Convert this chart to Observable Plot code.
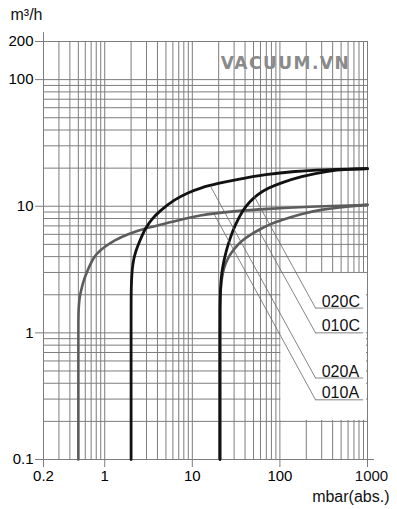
<!DOCTYPE html>
<html><head><meta charset="utf-8">
<script src="https://cdn.jsdelivr.net/npm/d3@7"></script>
<script src="https://cdn.jsdelivr.net/npm/@observablehq/plot@0.6"></script>
<style>
html,body{margin:0;padding:0;background:#fff;}
#chart svg{display:block;}
</style></head><body><div id="chart"></div>
<script>
// Axis ticks
const xTicks = [0.2, 1, 10, 100];
const xTickLast = [1000];
const yTicks = [0.1, 1, 10, 100, 200];
// Grid lines
const xGrid = [0.3,0.4,0.5,0.6,0.7,0.8,0.9,1,2,3,4,5,6,7,8,9,10,20,30,40,50,60,70,80,90,100,200,300,400,500,600,700,800,900,1000];
const yGrid = [0.2,0.3,0.4,0.5,0.6,0.7,0.8,0.9,1,2,3,4,5,6,7,8,9,10,20,30,40,50,60,70,80,90,100,200];

// Curves (pressure mbar, pumping speed m3/h)
const x010A = [0.5,0.5,0.5,0.5,0.503,0.515,0.54,0.58,0.63,0.68,0.75,0.85,0.97,1.3,1.8,3,5.6,12,30,72,200,1000,1000];
const y010A = [0.1,0.4,0.9,1.25,1.55,1.9,2.2,2.65,3.05,3.45,3.95,4.35,4.72,5.4,6.0,6.75,7.45,8.55,9.15,9.55,9.9,10.25,10.25];
const x020A = [2,2,2,2,2.02,2.06,2.14,2.28,2.45,2.7,3,3.5,4.2,6.2,9,12.4,20,30,70,150,300,1000,1000];
const y020A = [0.1,0.5,1.2,2.0,2.6,3.2,3.85,4.5,5.1,6,6.9,8,9.1,11.3,12.8,14,15.2,16.1,17.9,18.9,19.4,19.8,19.8];
const x010C = [20.7,20.7,20.7,20.7,20.9,21.4,22.3,23.8,26,30,36,45,57,80,100,175,300,600,1000,1000];
const y010C = [0.1,0.4,0.9,1.5,2.0,2.5,3.0,3.5,4.0,4.6,5.3,5.9,6.5,7.3,7.7,8.7,9.45,9.95,10.25,10.25];
const x020C = [20.7,20.7,20.7,20.7,20.9,21.5,22.7,24.5,27,30.5,38,45,55,75,100,173,350,600,1000,1000];
const y020C = [0.1,0.4,0.9,1.6,2.2,2.9,3.6,4.5,5.6,7,9.4,10.8,12.4,14,15.2,17.2,19,19.6,19.8,19.8];

// Labels and leader lines
const labelNames = ["020C","010C","020A","010A"];
const labelY = [1.57, 1.0, 0.44, 0.296];
const leaderX0 = [50.5, 57, 16.1, 17.6];
const leaderY0 = [12.1, 6.5, 14.4, 8.75];
const leaderX1 = 255;
const underlineX2 = 906;
const labelX = 300;
// Blank label box
const boxX = [100, 1000];
const boxY = [0.2, 3];

const pts = (xs, ys) => xs.map((x, i) => ({x, y: ys[i]}));
const labels = labelNames.map((t, i) => ({t, y: labelY[i], x0: leaderX0[i], y0: leaderY0[i]}));

const grid = "#7d7d7d";
const plot = Plot.plot({
  width: 397, height: 509,
  marginTop: 41, marginBottom: 50, marginLeft: 43, marginRight: 30,
  style: {fontFamily: "'Liberation Sans', Arial, sans-serif", fontSize: "15px", background: "white", overflow: "visible"},
  x: {type: "log", domain: [0.2, 1000], axis: null},
  y: {type: "log", domain: [0.1, 200], axis: null},
  marks: [
    Plot.ruleX(xGrid, {y1: 0.1, y2: 200, stroke: grid, strokeWidth: 1}),
    Plot.ruleY(yGrid, {x1: 0.2, x2: 1000, stroke: grid, strokeWidth: 1}),
    Plot.rect([{x1: boxX[0], x2: boxX[1], y1: boxY[0], y2: boxY[1]}], {x1: "x1", x2: "x2", y1: "y1", y2: "y2", fill: "white", inset: 1}),
    Plot.ruleX([0.2], {y1: 0.1, y2: 235, stroke: grid}),
    Plot.ruleY([0.1], {x1: 0.2, x2: 1200, stroke: grid}),
    Plot.axisX({ticks: xTicks, tickSize: 8, tickPadding: 3, tickFormat: d => String(d), stroke: grid, fontSize: 15, label: null}),
    Plot.axisX({ticks: xTickLast, tickSize: 8, tickFormat: () => "", stroke: grid, label: null}),
    Plot.text(xTickLast, {x: d => d, y: 0.1, text: d => String(d), dx: 4, dy: 11, lineAnchor: "top", fontSize: 15, fill: "#111"}),
    Plot.axisY({ticks: yTicks, tickSize: 8, tickPadding: 2, tickFormat: d => String(d), stroke: grid, fontSize: 15, label: null}),
    Plot.text(["VACUUM.VN"], {frameAnchor: "top", dx: 80, dy: 27, lineAnchor: "bottom", fontFamily: "'DejaVu Sans', sans-serif", fontWeight: "bold", fontSize: 17, fill: "#8a8a8a"}),
    Plot.line(pts(x010A, y010A), {x: "x", y: "y", stroke: "#5c5c5c", strokeWidth: 2.6, curve: "basis"}),
    Plot.line(pts(x010C, y010C), {x: "x", y: "y", stroke: "#5c5c5c", strokeWidth: 2.6, curve: "basis"}),
    Plot.line(pts(x020A, y020A), {x: "x", y: "y", stroke: "#111", strokeWidth: 2.8, curve: "basis"}),
    Plot.line(pts(x020C, y020C), {x: "x", y: "y", stroke: "#111", strokeWidth: 2.8, curve: "basis"}),
    Plot.link(labels, {x1: "x0", y1: "y0", x2: leaderX1, y2: "y", stroke: "#666", strokeWidth: 0.8}),
    Plot.ruleY(labels, {y: "y", x1: leaderX1, x2: underlineX2, stroke: "#666", strokeWidth: 0.8}),
    Plot.text(labels, {x: labelX, y: "y", text: "t", textAnchor: "start", lineAnchor: "bottom", dy: -1.5, fontSize: 16, fill: "#111"}),
    Plot.text(["m³/h"], {frameAnchor: "top-left", dx: -33, dy: -22, textAnchor: "start", lineAnchor: "bottom", fontSize: 16, fill: "#111"}),
    Plot.text(["mbar(abs.)"], {frameAnchor: "bottom-right", dx: 22, dy: 42, textAnchor: "end", lineAnchor: "bottom", fontSize: 16, fill: "#111"})
  ]
});
document.getElementById("chart").appendChild(plot);
plot.querySelectorAll("text").forEach(t => { if (t.textContent === "VACUUM.VN") t.setAttribute("letter-spacing", "1.5"); });
</script></body></html>
